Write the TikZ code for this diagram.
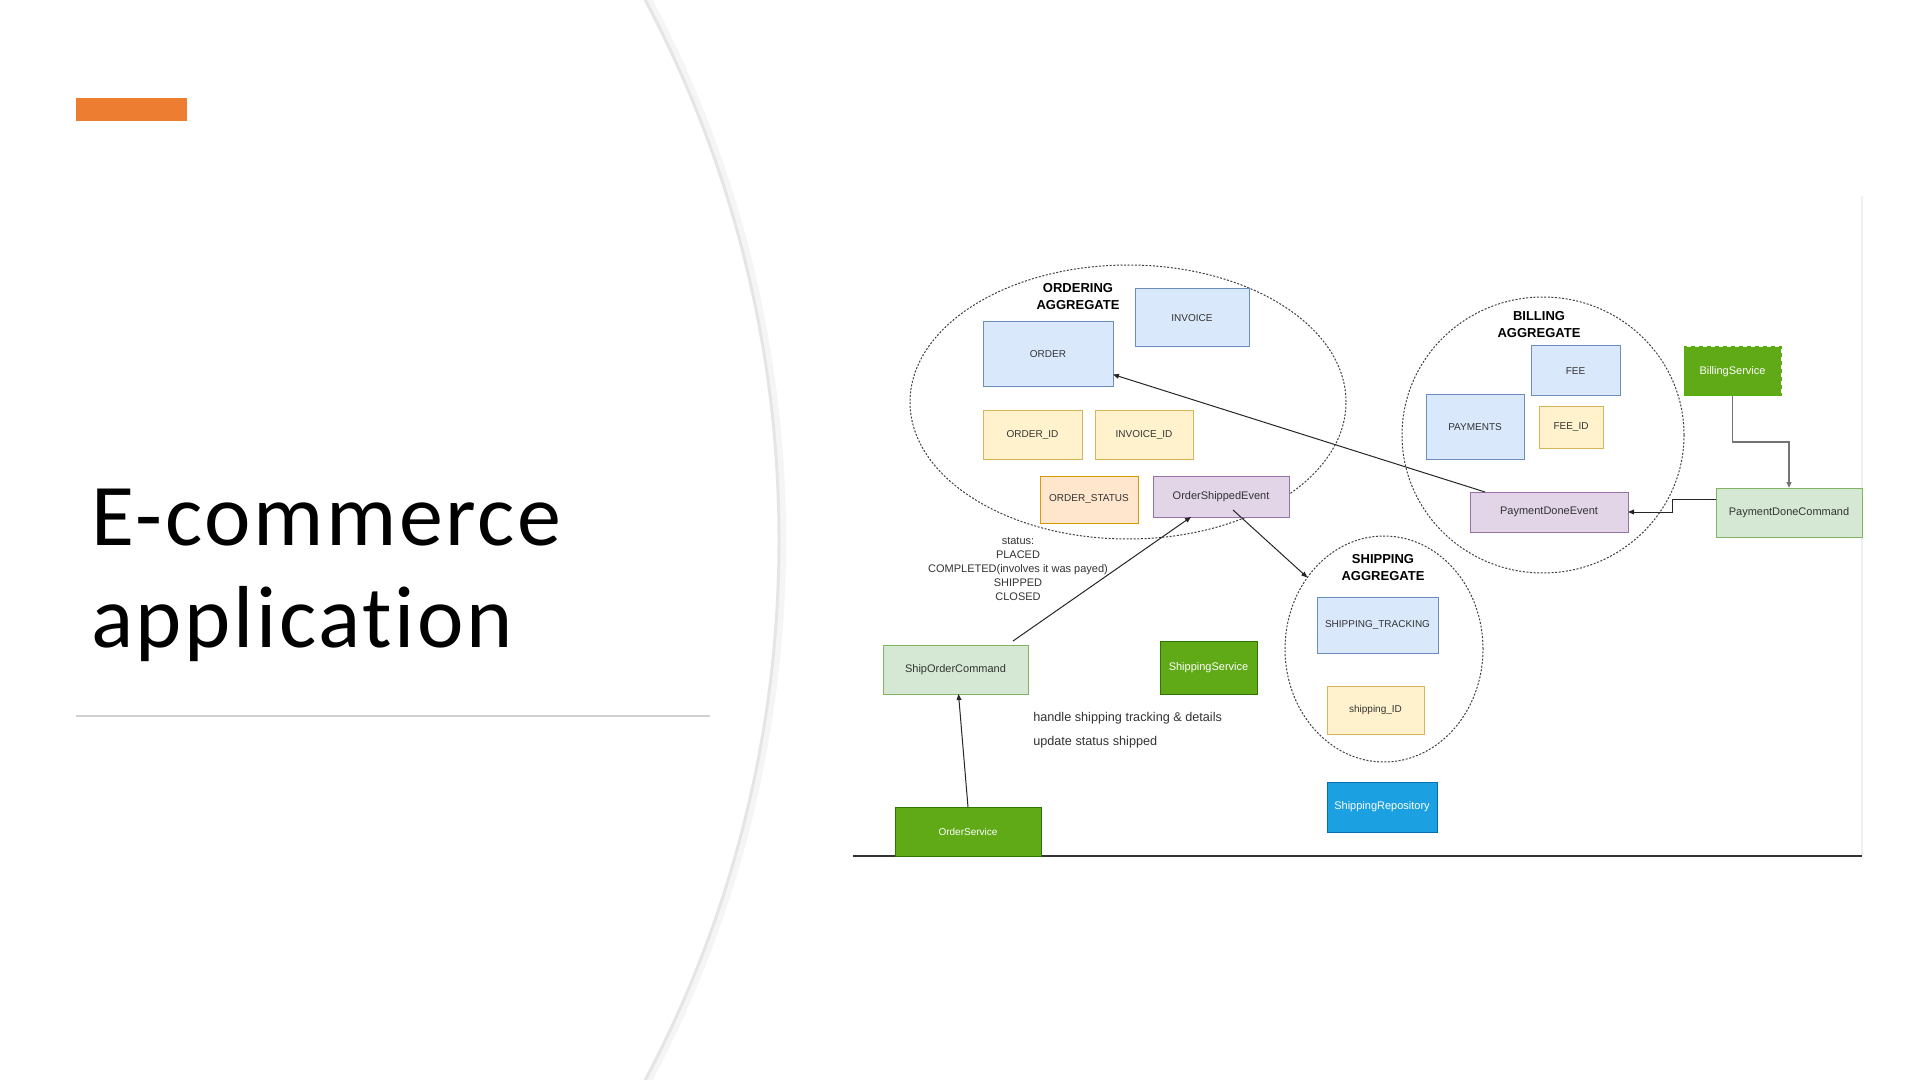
\documentclass[tikz,border=0pt]{standalone}
\usepackage{fontspec}
\setmainfont{Liberation Sans}
\newfontfamily\titlefont{Carlito}[Ligatures={NoCommon}, LetterSpace=3]
\usetikzlibrary{arrows.meta,shapes.geometric,calc}
\definecolor{bfill}{HTML}{DAE8FC}\definecolor{bline}{HTML}{6C8EBF}
\definecolor{yfill}{HTML}{FFF2CC}\definecolor{yline}{HTML}{D6B656}
\definecolor{ofill}{HTML}{FFE6CC}\definecolor{oline}{HTML}{D79B00}
\definecolor{pfill}{HTML}{E1D5E7}\definecolor{pline}{HTML}{9673A6}
\definecolor{gfill}{HTML}{D5E8D4}\definecolor{gline}{HTML}{82B366}
\definecolor{dgfill}{HTML}{60A917}\definecolor{dgline}{HTML}{2D7600}
\definecolor{repofill}{HTML}{1BA1E2}\definecolor{repoline}{HTML}{006EAF}
\definecolor{txt}{HTML}{333333}
\definecolor{orangebar}{HTML}{ED7D31}
\newcommand\bx[7]{\node[#2, minimum width={(#5-#3)*0.75pt}, minimum height={(#6-#4)*0.75pt}] (#1) at ({(#3+#5)/2},{(#4+#6)/2}) {#7};}
\begin{document}
\begin{tikzpicture}[x=0.75pt,y=-0.75pt,
  base/.style={draw, line width=0.75pt, inner sep=0pt, outer sep=0pt, text=txt, font=\fontsize{8.25}{10}\selectfont},
  capsf/.style={font=\fontsize{7.5}{9}\selectfont},
  bluebox/.style={base, fill=bfill, draw=bline, capsf},
  yelbox/.style={base, fill=yfill, draw=yline, capsf},
  orabox/.style={base, fill=ofill, draw=oline, capsf},
  purbox/.style={base, fill=pfill, draw=pline},
  grnbox/.style={base, fill=gfill, draw=gline},
  svcbox/.style={base, fill=dgfill, draw=dgline, text=white},
  repobox/.style={base, fill=repofill, draw=repoline, text=white},
  aggr/.style={draw=black!75, line width=0.75pt, dash pattern=on 1.5pt off 1.2pt, ellipse, inner sep=0pt, outer sep=0pt},
  agglabel/.style={align=center, inner sep=0pt, font=\bfseries\fontsize{9.75}{12.75}\selectfont},
  arr/.style={-{Triangle[length=4.5pt,width=3.6pt]}, line width=0.75pt, draw=black!85},
  note/.style={inner sep=0pt, text=txt}
]
\useasboundingbox (0,0) rectangle (1920,1080);
\fill[white] (0,0) rectangle (1920,1080);
% slide decoration
\begin{scope}
\clip (0,0) rectangle (1920,1080);
\draw[line width=6pt, color=black!4] (-373,540) circle[radius=1155];
\draw[line width=2.2pt, color=black!10] (-376,540) circle[radius=1155];
\end{scope}
\fill[orangebar] (76,98) rectangle (187,121);
\node[anchor=base west, inner sep=0pt, font=\titlefont\fontsize{66}{76}\selectfont] (title1) at (91,545) {E-commerce};
\node[anchor=base west, inner sep=0pt, font=\titlefont\fontsize{66}{76}\selectfont] (title2) at (91,647) {application};
\draw[line width=2pt, color=black!18] (76,716) -- (710,716);
% screenshot frame lines
\draw[line width=0.8pt, color=black!6] (1862,196) -- (1862,856);
\draw[line width=1.1pt, color=black!80] (853,856) -- (1862,856);
% aggregates
\node[aggr, minimum width=436*0.75pt, minimum height=274*0.75pt] (ordagg) at (1128,402) {};
\node[aggr, minimum width=282*0.75pt, minimum height=276*0.75pt] (billagg) at (1543,435) {};
\node[aggr, minimum width=198*0.75pt, minimum height=226*0.75pt] (shipagg) at (1384,649) {};
\node[agglabel] (ordlbl) at (1078,297) {ORDERING\\AGGREGATE};
\node[agglabel] (billlbl) at (1539,325) {BILLING\\AGGREGATE};
\node[agglabel] (shiplbl) at (1383,568) {SHIPPING\\AGGREGATE};
% ordering boxes
\bx{order}{bluebox}{983}{322}{1113}{387}{ORDER}
\bx{invoice}{bluebox}{1135}{289}{1249}{347}{INVOICE}
\bx{orderid}{yelbox}{983}{411}{1082}{459}{ORDER\_ID}
\bx{invoiceid}{yelbox}{1095}{411}{1193}{459}{INVOICE\_ID}
\bx{orderstatus}{orabox}{1040}{476}{1138}{523}{ORDER\_STATUS}
\bx{ose}{purbox}{1153}{476}{1289}{517}{OrderShippedEvent}
% billing boxes
\bx{fee}{bluebox}{1531}{346}{1620}{396}{FEE}
\bx{payments}{bluebox}{1426}{395}{1524}{459}{PAYMENTS}
\bx{feeid}{yelbox}{1539}{407}{1603}{448}{FEE\_ID}
\bx{pde}{purbox}{1470}{492}{1628}{532}{PaymentDoneEvent}
\bx{billsvc}{svcbox,draw=green!45!lime!70!black,dashed}{1684}{347}{1781}{396}{BillingService}
\bx{pdc}{grnbox}{1716}{488}{1862}{537}{PaymentDoneCommand}
% shipping boxes
\bx{shiptrack}{bluebox}{1317}{597}{1438}{653}{SHIPPING\_TRACKING}
\bx{shipid}{yelbox}{1327}{686}{1424}{734}{shipping\_ID}
\bx{shiprepo}{repobox}{1327}{782}{1437}{832}{ShippingRepository}
% commands and services
\bx{soc}{grnbox}{883}{645}{1028}{694}{ShipOrderCommand}
\bx{shipsvc}{svcbox}{1160}{641}{1257}{694}{ShippingService}
\bx{ordsvc}{svcbox,capsf}{895}{807}{1041}{856}{OrderService}
% notes
\node[note, align=center, font=\fontsize{8.25}{10.5}\selectfont] (status) at (1018,569) {status:\\PLACED\\COMPLETED(involves it was payed)\\SHIPPED\\CLOSED};
\node[note, anchor=west, align=left, font=\fontsize{9.5}{18}\selectfont] (handle) at (1033,730) {handle shipping tracking \& details\\update status shipped};
% connectors
\draw[arr] ([xshift=15*0.75pt]pde.north west) -- ([yshift=-20*0.75pt]order.east);
\draw[arr, draw=black!55, line width=1.2pt] (billsvc.south) |- ($(pdc.north)+(0,-46)$) -- (pdc.north);
\draw[arr] ([yshift=13*0.75pt]pdc.west) -| ($(pde.east)+(44,0)$) -- (pde.east);
\draw[arr] (ordsvc.north) -- ([xshift=3*0.75pt]soc.south);
\draw[arr] ([xshift=-15*0.75pt,yshift=4*0.75pt]soc.north east) -- ([xshift=-30*0.75pt]ose.south);
\draw[arr] ([xshift=12*0.75pt,yshift=7*0.75pt]ose.south) -- (shipagg.137);
\end{tikzpicture}
\end{document}
